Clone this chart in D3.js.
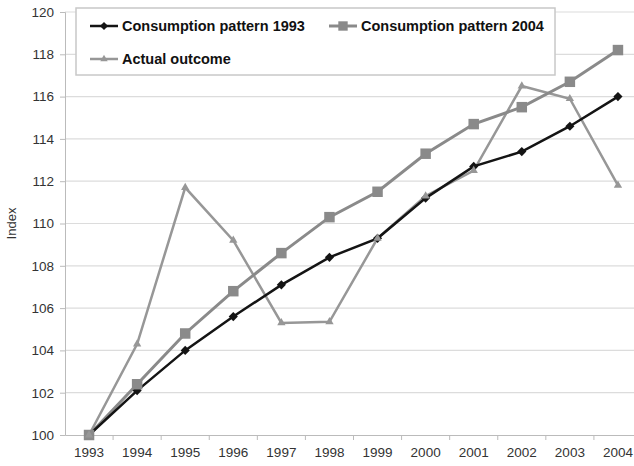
<!DOCTYPE html>
<html>
<head>
<meta charset="utf-8">
<script src="https://cdn.jsdelivr.net/npm/d3@7"></script>
<style>
  body { margin: 0; background: #fff; }
  svg { display: block; font-family: "Liberation Sans", Arial, sans-serif; }
</style>
</head>
<body>
<svg id="chart" width="634" height="466"></svg>
<script>
// data
var years = ["1993", "1994", "1995", "1996", "1997", "1998", "1999", "2000", "2001", "2002", "2003", "2004"];
var pattern1993 = [100, 102.1, 104.0, 105.6, 107.1, 108.4, 109.3, 111.2, 112.7, 113.4, 114.6, 116.0];
var pattern2004 = [100, 102.4, 104.8, 106.8, 108.6, 110.3, 111.5, 113.3, 114.7, 115.5, 116.7, 118.2];
var actual = [100, 104.3, 111.7, 109.2, 105.3, 105.35, 109.3, 111.3, 112.5, 116.5, 115.9, 111.8];
var yTicks = [100, 102, 104, 106, 108, 110, 112, 114, 116, 118, 120];

// square turned 45 degrees reads as the wide diamond of the original
var series = [
  { name: "Consumption pattern 1993", values: pattern1993, color: "#141414", symbol: d3.symbolSquare, rot: 45, size: 42, width: 2.5 },
  { name: "Consumption pattern 2004", values: pattern2004, color: "#8a8a8a", symbol: d3.symbolSquare, rot: 0, size: 110, width: 3 },
  { name: "Actual outcome", values: actual, color: "#979797", symbol: d3.symbolTriangle, rot: 0, size: 30, width: 2.5 }
];

var margin = { top: 12, right: -8, bottom: 31, left: 65 },
    width = 634 - margin.left - margin.right,
    height = 466 - margin.top - margin.bottom;

var svg = d3.select("#chart");
var g = svg.append("g")
    .attr("transform", "translate(" + margin.left + "," + margin.top + ")");

var x = d3.scaleBand().domain(years).range([0, width]);
var y = d3.scaleLinear().domain([100, 120]).range([height, 0]);

// gridlines
g.append("g")
    .selectAll("line")
    .data(yTicks.slice(1))
    .enter().append("line")
    .attr("x1", 0)
    .attr("x2", width)
    .attr("y1", d => y(d))
    .attr("y2", d => y(d))
    .style("stroke", "#dcdcdc")
    .style("stroke-width", 1.2);

// y axis
var yAxis = g.append("g")
    .call(d3.axisLeft(y).tickValues(yTicks).tickSize(5).tickPadding(6));
yAxis.selectAll("text").style("font-size", "13.5px").style("fill", "#333");
yAxis.selectAll("line, path").style("stroke", "#bbb");

// x axis, ticks between categories
var xAxis = g.append("g")
    .attr("transform", "translate(0," + height + ")")
    .call(d3.axisBottom(x).tickSize(0).tickPadding(12));
xAxis.selectAll("text").style("font-size", "13.5px").style("fill", "#333");
xAxis.select(".domain").style("stroke", "#bbb").style("stroke-width", 1.2);
xAxis.selectAll(".sep")
    .data(years.slice(1))
    .enter().append("line")
    .attr("class", "sep")
    .attr("x1", d => x(d))
    .attr("x2", d => x(d))
    .attr("y1", 0)
    .attr("y2", 5)
    .style("stroke", "#bbb");

// axis title
svg.append("text")
    .attr("transform", "translate(16," + (margin.top + height / 2) + ") rotate(-90)")
    .attr("text-anchor", "middle")
    .style("font-size", "13px")
    .style("fill", "#333")
    .text("Index");

var line = d3.line()
    .x((d, i) => x(years[i]) + x.bandwidth() / 2)
    .y(d => y(d));

// lines back to front: actual, 2004, 1993
[series[2], series[1], series[0]].forEach(function(s) {
  g.append("path")
      .datum(s.values)
      .attr("d", line)
      .style("fill", "none")
      .style("stroke", s.color)
      .style("stroke-width", s.width)
      .style("stroke-linejoin", "miter");
});

// markers
series.forEach(function(s) {
  g.selectAll(null)
      .data(s.values)
      .enter().append("path")
      .attr("transform", (d, i) => "translate(" + (x(years[i]) + x.bandwidth() / 2) + "," + y(d) + ") rotate(" + s.rot + ")")
      .attr("d", d3.symbol().type(s.symbol).size(s.size))
      .style("fill", s.color);
});

// legend
var legend = svg.append("g").attr("transform", "translate(76,8)");
legend.append("rect")
    .attr("width", 479)
    .attr("height", 67)
    .style("fill", "#fff")
    .style("stroke", "#c8c8c8")
    .style("stroke-width", 1.5);

var legendPos = [[14, 18], [253, 18], [14, 51]];
series.forEach(function(s, i) {
  var item = legend.append("g")
      .attr("transform", "translate(" + legendPos[i][0] + "," + legendPos[i][1] + ")");
  item.append("line")
      .attr("x1", 0).attr("x2", 28)
      .style("stroke", s.color)
      .style("stroke-width", s.width);
  item.append("path")
      .attr("transform", "translate(14,0) rotate(" + s.rot + ")")
      .attr("d", d3.symbol().type(s.symbol).size(s.size * 0.8))
      .style("fill", s.color);
  item.append("text")
      .attr("x", 32)
      .attr("dy", "0.35em")
      .style("font-size", "14.5px")
      .style("font-weight", "bold")
      .style("fill", "#111")
      .text(s.name);
});
</script>
</body>
</html>
